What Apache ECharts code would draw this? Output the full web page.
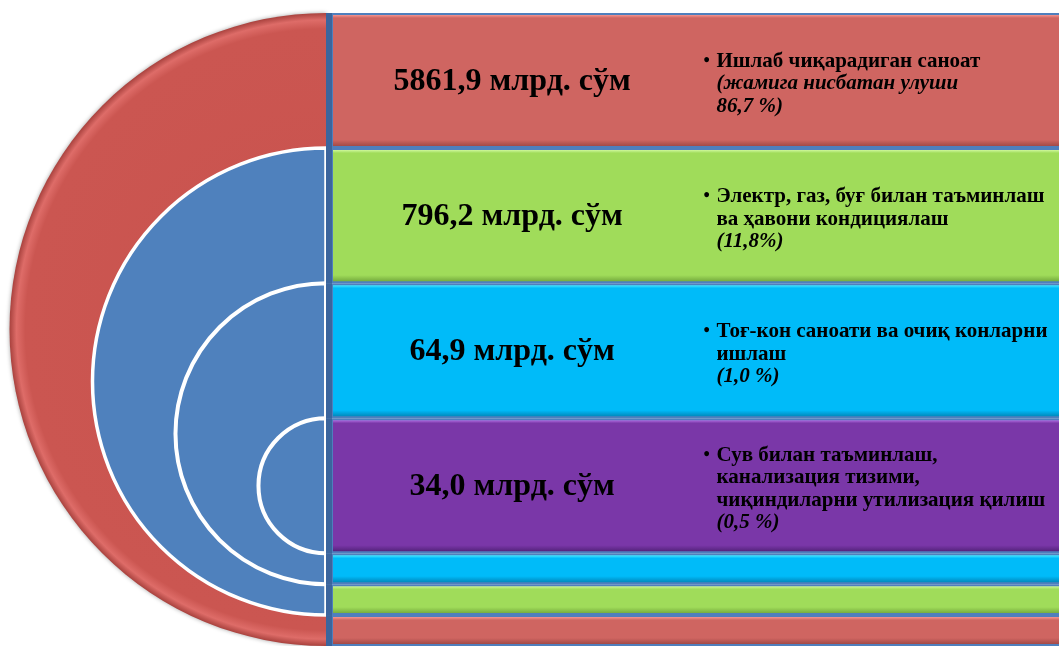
<!DOCTYPE html>
<html><head><meta charset="utf-8">
<script src="https://cdn.jsdelivr.net/npm/echarts@6/dist/echarts.min.js"></script>
<style>html,body{margin:0;padding:0;background:#fff}#c{width:1059px;height:646px}</style>
</head><body><div id="c"></div>
<script>
// ---- data ----
const categories = [
  ['Ишлаб чиқарадиган саноат'],
  ['Электр, газ, буғ билан таъминлаш', 'ва ҳавони кондициялаш'],
  ['Тоғ-кон саноати ва очиқ конларни', 'ишлаш'],
  ['Сув билан таъминлаш,', 'канализация тизими,', 'чиқиндиларни утилизация қилиш']
];
const values = [5861.9, 796.2, 64.9, 34.0];
const shares = [86.7, 11.8, 1.0, 0.5];
const sharePrefix = ['(жамига нисбатан улуши\n', '(', '(', '('];
const shareSep = [' ', '', ' ', ' '];
const unitLabel = 'млрд. сўм';

// ---- layout / style ----
const MAIN = 4.37, THIN = 1;
const TOTAL = 4 * MAIN + 3 * THIN;
const palette = {
  red:    {top: '#f39490', mid: '#cf6561', bot: '#a24a47'},
  green:  {top: '#cdf79a', mid: '#a0dc5a', bot: '#77ad3f'},
  cyan:   {top: '#4ae8ff', mid: '#00bbf9', bot: '#0089bd'},
  purple: {top: '#b06ce0', mid: '#7a37a8', bot: '#55237c'}
};
const mainColors = ['red', 'green', 'cyan', 'purple'];
const thinColors = ['cyan', 'green', 'red'];

const bandRows = [];
let acc = 0;
mainColors.forEach((c, i) => { bandRows.push([acc, acc + MAIN, i, -1]); acc += MAIN; });
thinColors.forEach((c, i) => { bandRows.push([acc, acc + THIN, -1, i]); acc += THIN; });

const fmt = v => v.toFixed(1).replace('.', ',');
const SERIF = '"Liberation Serif","Times New Roman",serif';

function bandGradient(col, h) {
  const a = Math.min(0.45, 3 / h), b = Math.min(0.5, 6 / h);
  return new echarts.graphic.LinearGradient(0, 0, 0, 1, [
    {offset: 0, color: col.top},
    {offset: a, color: col.mid},
    {offset: 1 - b, color: col.mid},
    {offset: 1, color: col.bot}
  ]);
}

function renderBand(params, api) {
  const s = api.value(0), e = api.value(1), mi = api.value(2), ti = api.value(3);
  const p0 = api.coord([0, s]), p1 = api.coord([1, e]);
  const x0 = p0[0], y0 = p0[1], x1 = p1[0], y1 = p1[1];
  const w = x1 - x0, h = y1 - y0;
  const col = palette[mi >= 0 ? mainColors[mi] : thinColors[ti]];
  const children = [
    {type: 'rect', shape: {x: x0, y: y0, width: w, height: h}, style: {fill: '#4f7fbd'}},
    {type: 'rect', shape: {x: x0, y: y0, width: 6, height: h}, style: {fill: '#3b659d'}},
    {type: 'rect', shape: {x: x0 + 7, y: y0 + 2, width: w - 7, height: h - 4},
     style: {fill: bandGradient(col, h - 4)}}
  ];
  if (mi >= 0) {
    const cy = y0 + h / 2;
    children.push({type: 'text', style: {
      text: fmt(values[mi]) + ' ' + unitLabel,
      x: x0 + 0.254 * w, y: cy + 1, align: 'center', verticalAlign: 'middle',
      font: 'bold 32px ' + SERIF, fill: '#000'
    }});
    const shareText = sharePrefix[mi] + fmt(shares[mi]) + shareSep[mi] + '%)';
    const shareLines = shareText.split('\n');
    const lh = 22.5;
    const nLines = categories[mi].length + shareLines.length;
    const txt = categories[mi].map(l => '{b|' + l + '}')
      .concat(shareLines.map(l => '{i|' + l + '}')).join('\n');
    const bx = x0 + 0.515 * w;
    const ty = cy + 3.5;
    children.push({type: 'text', style: {
      text: txt, x: bx + 13, y: ty, align: 'left', verticalAlign: 'middle',
      fill: '#000',
      rich: {
        b: {font: 'bold 21px ' + SERIF, lineHeight: lh, fill: '#000'},
        i: {font: 'italic bold 21px ' + SERIF, lineHeight: lh, fill: '#000'}
      }
    }});
    children.push({type: 'text', style: {
      text: '•', x: bx, y: ty - nLines * lh / 2 + lh / 2, align: 'left', verticalAlign: 'middle',
      font: 'bold 18px ' + SERIF, fill: '#000'
    }});
  }
  return {type: 'group', children};
}

function renderCircle(params, api) {
  const i = params.dataIndex;
  const top = i * MAIN, bottom = TOTAL - i * THIN;
  const c = api.coord([0, (top + bottom) / 2]);
  const r = api.size([0, (bottom - top) / 2])[1];
  const shape = {cx: c[0], cy: c[1], r0: 0, r: r, startAngle: Math.PI / 2, endAngle: Math.PI * 1.5, clockwise: true};
  if (i === 0) {
    return {type: 'sector', shape, style: {
      fill: new echarts.graphic.RadialGradient(c[0], c[1], r, [
        {offset: 0, color: '#c9524d'},
        {offset: 0.95, color: '#cb5651'},
        {offset: 0.978, color: '#de6c68'},
        {offset: 1, color: '#a9423e'}
      ], true),
      shadowBlur: 4, shadowColor: 'rgba(0,0,0,0.35)'
    }};
  }
  return {type: 'sector', shape, style: {
    fill: '#4f81bd', stroke: '#ffffff', lineWidth: i === 1 ? 3.5 : 4
  }};
}

const chart = echarts.init(document.getElementById('c'));
chart.setOption({
  animation: false,
  grid: {left: 326, top: 13, width: 733, height: 635},
  xAxis: {type: 'value', min: 0, max: 1, show: false},
  yAxis: {type: 'value', inverse: true, min: 0, max: TOTAL, show: false},
  series: [
    {type: 'custom', renderItem: renderCircle, clip: false, data: categories.map((c, i) => [i]), z: 1},
    {type: 'custom', renderItem: renderBand, clip: false, data: bandRows, z: 2}
  ]
});
</script></body></html>
